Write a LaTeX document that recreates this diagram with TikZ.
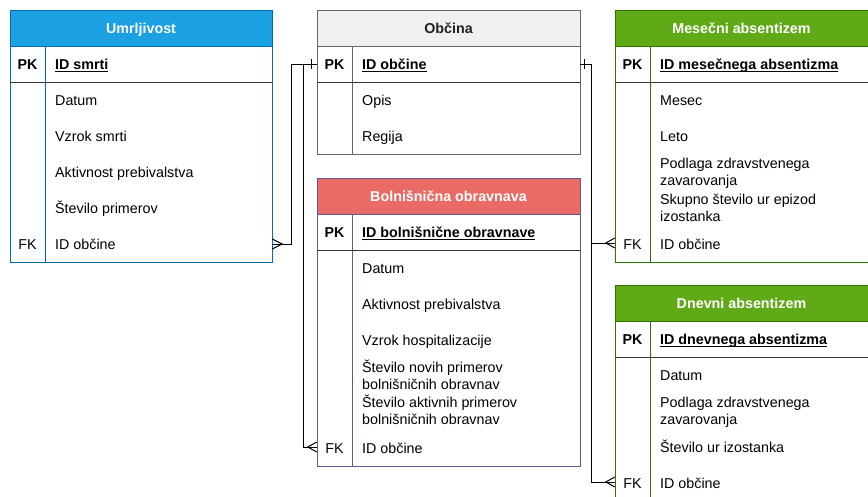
\documentclass[tikz,border=0pt]{standalone}
\usepackage{fontspec}
\setmainfont{Liberation Sans}
\definecolor{umfill}{HTML}{1BA1E2}
\definecolor{umline}{HTML}{006EAF}
\definecolor{obfill}{HTML}{F0F0F0}
\definecolor{obline}{HTML}{666666}
\definecolor{obtext}{HTML}{222222}
\definecolor{bofill}{HTML}{EA6B66}
\definecolor{boline}{HTML}{65588E}
\definecolor{gnfill}{HTML}{60A917}
\definecolor{gnline}{HTML}{2D7600}
\definecolor{pkcol}{HTML}{333333}
\newcommand\ulkey[1]{\setbox0\hbox{#1}\rlap{\rule[-2.6pt]{\wd0}{1.1pt}}\box0}
\newcommand\efont{\fontsize{14.3}{17}\selectfont}
\begin{document}
\begin{tikzpicture}[x=1pt,y=-1pt,
  base/.style={inner sep=0pt, font=\efont},
  hdr/.style={base, font=\efont\bfseries, text height=10pt, text depth=0pt},
  keycol/.style={base, text height=10pt, text depth=0pt},
  fld/.style={base, anchor=west, text height=10pt, text depth=0pt},
  fld2/.style={base, anchor=west, align=left, text height=27pt, text depth=0pt},
  rowbox/.style={inner sep=0pt, minimum height=36pt},
  conn/.style={draw=black, line width=1pt},
  tbl/.style={line width=1pt},
  pkline/.style={draw=pkcol, line width=1pt}
]
\useasboundingbox (0,0) rectangle (868,496);
\clip (0,0) rectangle (868,496);

% ---------- Umrljivost ----------
\fill[umfill] (10,10) rectangle (272,46);
\draw[tbl, umline] (10,10) rectangle (272,262);
\draw[tbl, umline] (10,46) -- (272,46);
\draw[tbl, umline] (45,46) -- (45,262);
\draw[pkline] (10,82) -- (272,82);
\node[hdr, text=white] (um-title) at (141,28) {Umrljivost};
\node[keycol, font=\efont\bfseries] (um-pkl) at (27.5,64) {PK};
\node[fld, font=\efont\bfseries] (um-pkt) at (55,64) {\ulkey{ID smrti}};
\node[fld] (um-r1) at (55,100) {Datum};
\node[fld] (um-r2) at (55,136) {Vzrok smrti};
\node[fld] (um-r3) at (55,172) {Aktivnost prebivalstva};
\node[fld] (um-r4) at (55,208) {Število primerov};
\node[keycol] (um-fkl) at (27.5,244) {FK};
\node[fld] (um-r5) at (55,244) {ID občine};
\node[rowbox, minimum width=262pt] (um-fk) at (141,244) {};

% ---------- Obcina ----------
\fill[obfill] (317,10) rectangle (580,46);
\draw[tbl, obline] (317,10) rectangle (580,154);
\draw[tbl, obline] (317,46) -- (580,46);
\draw[tbl, obline] (352,46) -- (352,154);
\draw[pkline] (317,82) -- (580,82);
\node[hdr, text=obtext] (ob-title) at (448.5,28) {Občina};
\node[keycol, font=\efont\bfseries] (ob-pkl) at (334.5,64) {PK};
\node[fld, font=\efont\bfseries] (ob-pkt) at (362,64) {\ulkey{ID občine}};
\node[fld] (ob-r1) at (362,100) {Opis};
\node[fld] (ob-r2) at (362,136) {Regija};
\node[rowbox, minimum width=263pt] (ob-pk) at (448.5,64) {};

% ---------- Bolnisnicna obravnava ----------
\fill[bofill] (317,178) rectangle (580,214);
\draw[tbl, boline] (317,178) rectangle (580,466);
\draw[tbl, boline] (317,214) -- (580,214);
\draw[tbl, boline] (352,214) -- (352,466);
\draw[pkline] (317,250) -- (580,250);
\node[hdr, text=white] (bo-title) at (448.5,196) {Bolnišnična obravnava};
\node[keycol, font=\efont\bfseries] (bo-pkl) at (334.5,232) {PK};
\node[fld, font=\efont\bfseries] (bo-pkt) at (362,232) {\ulkey{ID bolnišnične obravnave}};
\node[fld] (bo-r1) at (362,268) {Datum};
\node[fld] (bo-r2) at (362,304) {Aktivnost prebivalstva};
\node[fld] (bo-r3) at (362,340) {Vzrok hospitalizacije};
\node[fld2] (bo-r4) at (362,376) {Število novih primerov\\bolnišničnih obravnav};
\node[fld2] (bo-r5) at (362,411) {Število aktivnih primerov\\bolnišničnih obravnav};
\node[keycol] (bo-fkl) at (334.5,448) {FK};
\node[fld] (bo-r6) at (362,448) {ID občine};
\node[rowbox, minimum width=263pt] (bo-fk) at (448.5,447) {};

% ---------- Mesecni absentizem ----------
\fill[gnfill] (615,10) rectangle (870,46);
\draw[tbl, gnline] (615,10) rectangle (870,262);
\draw[tbl, gnline] (615,46) -- (870,46);
\draw[tbl, gnline] (650,46) -- (650,262);
\draw[pkline] (615,82) -- (870,82);
\node[hdr, text=white] (me-title) at (741.5,28) {Mesečni absentizem};
\node[keycol, font=\efont\bfseries] (me-pkl) at (632.5,64) {PK};
\node[fld, font=\efont\bfseries] (me-pkt) at (660,64) {\ulkey{ID mesečnega absentizma}};
\node[fld] (me-r1) at (660,100) {Mesec};
\node[fld] (me-r2) at (660,136) {Leto};
\node[fld2] (me-r3) at (660,172) {Podlaga zdravstvenega\\zavarovanja};
\node[fld2] (me-r4) at (660,207.5) {Skupno število ur epizod\\izostanka};
\node[keycol] (me-fkl) at (632.5,244) {FK};
\node[fld] (me-r5) at (660,244) {ID občine};
\node[rowbox, minimum width=255pt] (me-fk) at (742.5,243) {};

% ---------- Dnevni absentizem ----------
\fill[gnfill] (615,285) rectangle (870,321);
\draw[tbl, gnline] (615,285) rectangle (870,501);
\draw[tbl, gnline] (615,321) -- (870,321);
\draw[tbl, gnline] (650,321) -- (650,501);
\draw[pkline] (615,357) -- (870,357);
\node[hdr, text=white] (dn-title) at (741.5,303) {Dnevni absentizem};
\node[keycol, font=\efont\bfseries] (dn-pkl) at (632.5,339) {PK};
\node[fld, font=\efont\bfseries] (dn-pkt) at (660,339) {\ulkey{ID dnevnega absentizma}};
\node[fld] (dn-r1) at (660,375) {Datum};
\node[fld2] (dn-r2) at (660,411) {Podlaga zdravstvenega\\zavarovanja};
\node[fld] (dn-r3) at (660,447) {Število ur izostanka};
\node[keycol] (dn-fkl) at (632.5,483) {FK};
\node[fld] (dn-r4) at (660,483) {ID občine};
\node[rowbox, minimum width=255pt] (dn-fk) at (742.5,482) {};

% ---------- Connectors ----------
% Obcina -> Umrljivost
\draw[conn] (ob-pk.west) -- ++(-25,0) |- (um-fk.east);
% Obcina -> Bolnisnicna
\draw[conn] (ob-pk.west) -- ++(-13,0) |- (bo-fk.west);
% Obcina -> Mesecni
\draw[conn] (ob-pk.east) -- ++(11,0) |- (me-fk.west);
% Obcina -> Dnevni
\draw[conn] (ob-pk.east) -- ++(11,0) |- (dn-fk.west);

% one marks
\draw[conn] ([xshift=-5pt]ob-pk.west) ++(0,-5) -- ++(0,10);
\draw[conn] ([xshift=4pt]ob-pk.east) ++(0,-5) -- ++(0,10);
% crow's feet
\draw[conn] (um-fk.east) ++(0,-5) -- ++(10,5) -- ++(-10,5);
\draw[conn] (bo-fk.west) ++(0,-5) -- ++(-9,5) -- ++(9,5);
\draw[conn] (me-fk.west) ++(0,-5) -- ++(-9,5) -- ++(9,5);
\draw[conn] (dn-fk.west) ++(0,-5) -- ++(-9,5) -- ++(9,5);
\end{tikzpicture}
\end{document}
